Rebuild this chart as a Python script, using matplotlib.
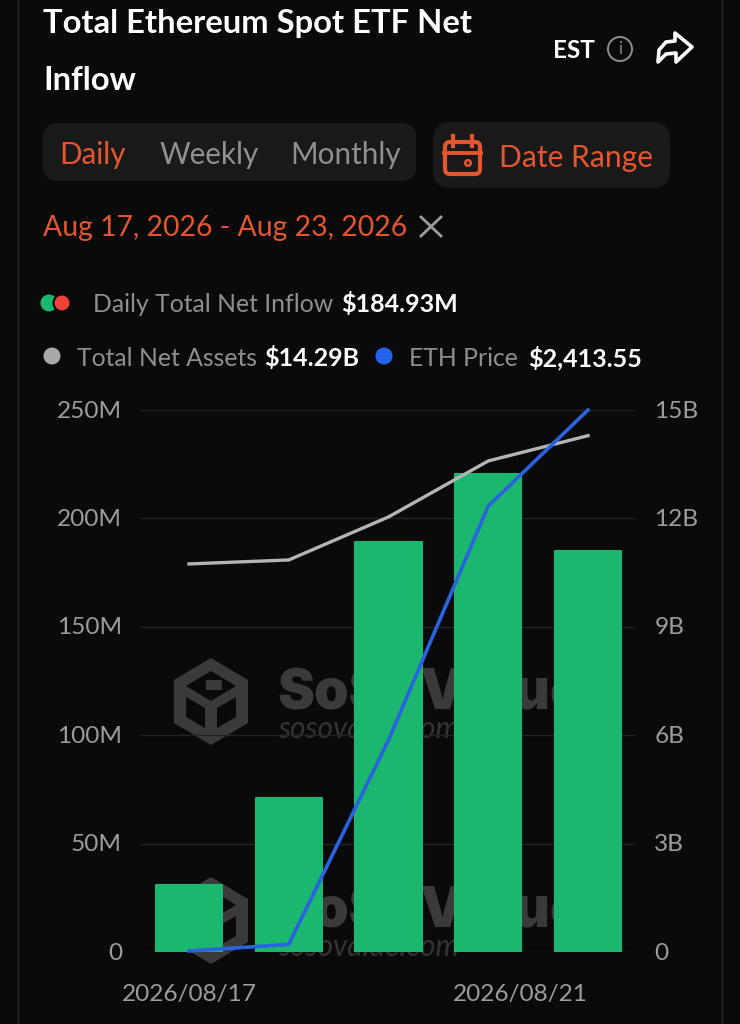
import matplotlib
matplotlib.use("Agg")
import matplotlib.pyplot as plt
from matplotlib.patches import FancyBboxPatch, Circle, Polygon
from matplotlib.transforms import ScaledTranslation

# ---- data ----
dates = ["2026/08/17", "2026/08/18", "2026/08/19", "2026/08/20", "2026/08/21"]
net_inflow_m = [31, 71, 189, 220.5, 184.93]
net_assets_b = [10.74, 10.85, 12.04, 13.59, 14.29]
eth_price = [2200.4, 2203, 2283.5, 2375.7, 2413.55]   # hidden scale; only the last value is printed
left_ticks = [0, 50, 100, 150, 200, 250]
left_labels = ["0", "50M", "100M", "150M", "200M", "250M"]
right_ticks = [0, 3, 6, 9, 12, 15]
right_labels = ["0", "3B", "6B", "9B", "12B", "15B"]
xtick_labels = ["2026/08/17", "2026/08/21"]

BG = "#0a0a0b"
ORANGE = "#E5562F"
GRAY = "#8f8f8f"
TICK = "#9c9c9c"
GREEN = "#1BB76E"
W, H = 740, 1024

plt.rcParams["font.family"] = ["Lato", "DejaVu Sans"]
fig = plt.figure(figsize=(W / 100, H / 100), dpi=100, facecolor=BG)

ui = fig.add_axes([0, 0, 1, 1], zorder=1)
ui.set_xlim(0, W)
ui.set_ylim(H, 0)
ui.axis("off")


def pill(x0, y0, x1, y1, r):
    ui.add_patch(FancyBboxPatch((x0 + r, y0 + r), x1 - x0 - 2 * r, y1 - y0 - 2 * r,
                                boxstyle=f"round,pad={r},rounding_size={r}",
                                fc="#191919", ec="none"))


def label(x, y, s, color="white", size=15, weight="normal", ha="left", **kw):
    ui.text(x, y, s, color=color, fontsize=size, fontweight=weight, ha=ha, va="center", **kw)


for x in (18, 722):
    ui.plot([x, x], [0, H], color="#2a2a2a", lw=1)

label(43, 23.5, "Total Ethereum Spot ETF Net", size=23.6, weight="bold")
label(43, 81, "Inflow", size=23.6, weight="bold")
label(553, 50, "EST", size=17.5, weight="bold")
ui.add_patch(Circle((620, 49), 12, fc="none", ec=GRAY, lw=1.4))
label(620, 49, "i", color=GRAY, size=12, ha="center")
ui.add_patch(Polygon([(675, 33), (692, 47), (676, 62), (676, 53), (666, 54), (658, 62),
                      (659, 50), (666, 42), (675, 41)], closed=True, fc="none", ec="white",
                     lw=2.6, joinstyle="round"))

pill(43, 123, 416, 181, 15)
pill(433, 122, 670, 188, 18)
label(59, 155, "Daily", color=ORANGE, size=21.3)
label(160, 155, "Weekly", color=GRAY, size=21.3)
label(290, 155, "Monthly", color=GRAY, size=21.3)
label(499, 158, "Date Range", color=ORANGE, size=21.6)
ui.add_patch(FancyBboxPatch((445, 142), 35, 32, boxstyle="round,pad=0,rounding_size=5",
                            fc="none", ec=ORANGE, lw=3))
ui.plot([444, 481], [153, 153], color=ORANGE, lw=2.8)
for x in (453, 472):
    ui.plot([x, x], [136, 146], color=ORANGE, lw=3)
ui.add_patch(Circle((468, 163), 2.8, fc="none", ec=ORANGE, lw=1.8))

label(43, 228, "Aug 17, 2026 - Aug 23, 2026", color=ORANGE, size=20.4)
ui.plot([421, 441], [217, 236], color=TICK, lw=2)
ui.plot([421, 441], [236, 217], color=TICK, lw=2)

ui.add_patch(Circle((49, 303), 8.5, fc="#1BB76E", ec="none"))
ui.add_patch(Circle((62, 303), 8.5, fc="#EF4136", ec=BG, lw=1.5))
label(93, 304, "Daily Total Net Inflow", color=GRAY, size=17.8)
label(341, 304, "$184.93M", size=18, weight="bold")
ui.add_patch(Circle((52, 356), 8.5, fc="#a9a9a9", ec="none"))
label(77, 358, "Total Net Assets", color=GRAY, size=17.8)
label(264, 358, "$14.29B", size=18, weight="bold")
ui.add_patch(Circle((384, 356), 8.5, fc="#2563EB", ec="none"))
label(409, 358, "ETH Price", color=GRAY, size=17.8)
label(528, 358, "$2,413.55", size=18, weight="bold")

# chart
L, R, T, B = 140, 635, 410, 952
ax = fig.add_axes([L / W, 1 - B / H, (R - L) / W, (B - T) / H], zorder=2)
ax.patch.set_alpha(0)
x_pos = list(range(len(dates)))
ax.set_xlim((L - 189) / 99.75, (R - 189) / 99.75)
ax.set_ylim(0, 250)
ax.set_yticks(left_ticks, left_labels)
ax.set_xticks([x_pos[0], x_pos[-1]], xtick_labels)
ax.tick_params(axis="both", length=0, labelcolor=TICK, labelsize=17.6)
ax.tick_params(axis="y", pad=13)
ax.tick_params(axis="x", pad=23)
shift_up = ScaledTranslation(0, 1 / 100, fig.dpi_scale_trans)
for t in ax.get_yticklabels():
    t.set_transform(t.get_transform() + shift_up)
ax.get_xticklabels()[-1].set_ha("right")
ax.grid(axis="y", color="#232323", lw=1)
ax.set_axisbelow(True)
for s in ax.spines.values():
    s.set_visible(False)

# watermarks sit between the grid and the bars
WM = "#3a3a3a"
for dy, tdy in ((0, 0), (219, 218)):
    hexa = [(211, 658 + dy), (248, 680 + dy), (248, 723 + dy), (211, 745 + dy), (174, 723 + dy), (174, 680 + dy)]
    ui.add_patch(Polygon(hexa, closed=True, fc=WM, ec="none"))
    ui.add_patch(Polygon([(211, 671 + dy), (236, 686 + dy), (211, 701 + dy), (186, 686 + dy)],
                         closed=True, fc=BG, ec="none"))
    ui.add_patch(Polygon([(186, 697 + dy), (205, 708 + dy), (205, 728 + dy), (186, 717 + dy)],
                         closed=True, fc=BG, ec="none"))
    ui.add_patch(Polygon([(236, 697 + dy), (217, 708 + dy), (217, 728 + dy), (236, 717 + dy)],
                         closed=True, fc=BG, ec="none"))
    ui.add_patch(Polygon([(206, 680 + dy), (222, 680 + dy), (222, 690 + dy), (206, 690 + dy)],
                         closed=True, fc=WM, ec="none"))
    ui.text(277, 710 + tdy, "SoSoValue", color=WM, fontsize=40, fontweight="black",
            family=["Inter", "DejaVu Sans"], va="baseline")
    ui.text(278, 738 + tdy, "sosovalue.com", color="#333333", fontsize=21.5, style="italic",
            va="baseline")

ax.bar(x_pos, net_inflow_m, width=0.665, color=GREEN, edgecolor=GREEN, lw=1.5,
       joinstyle="round", zorder=2)

ax2 = ax.twinx()
ax2.set_ylim(0, 15)
ax2.set_yticks(right_ticks, right_labels)
ax2.tick_params(axis="y", length=0, labelcolor=TICK, labelsize=17.6, pad=14)
for t in ax2.get_yticklabels():
    t.set_transform(t.get_transform() + shift_up)
ax2.plot(x_pos, net_assets_b, color="#b4b4b4", lw=2.4, solid_joinstyle="round", zorder=3)
for s in ax2.spines.values():
    s.set_visible(False)

ax3 = ax.twinx()
ax3.set_ylim(2200, 2413.55)
ax3.axis("off")
ax3.plot(x_pos, eth_price, color="#2A63E0", lw=2.6, solid_joinstyle="round", clip_on=False, zorder=4)

fig.savefig("out.png", dpi=100, facecolor=BG)
